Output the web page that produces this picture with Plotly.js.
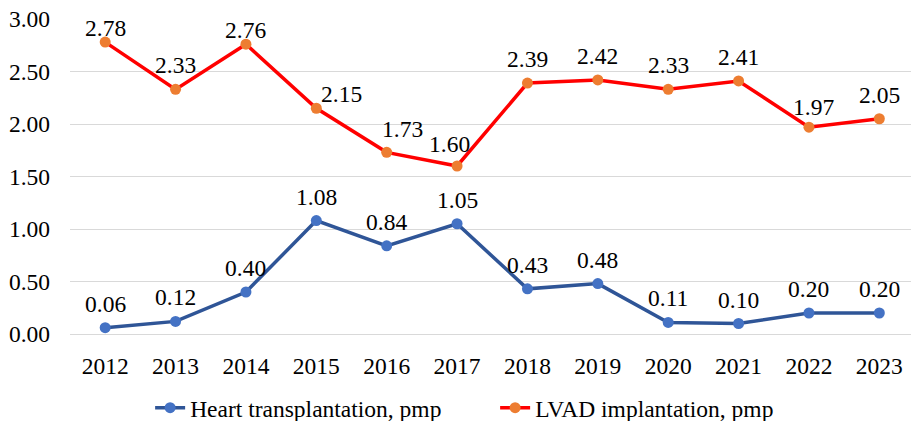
<!DOCTYPE html>
<html>
<head>
<meta charset="utf-8">
<script src="https://cdn.plot.ly/plotly-3.0.1.min.js"></script>
<style>html,body{margin:0;padding:0;background:#fff;}#chart{width:911px;height:421px;}#err{position:absolute;left:0;top:0;color:red;font-size:12px;}</style>
</head>
<body>
<div id="chart"></div>
<div id="err"></div>
<script>
const years = ['2012','2013','2014','2015','2016','2017','2018','2019','2020','2021','2022','2023'];
const heartTx = [0.06,0.12,0.40,1.08,0.84,1.05,0.43,0.48,0.11,0.10,0.20,0.20];
const lvad = [2.78,2.33,2.76,2.15,1.73,1.60,2.39,2.42,2.33,2.41,1.97,2.05];
const heartName = 'Heart transplantation, pmp';
const lvadName = 'LVAD implantation, pmp';

// label nudges (px) — style only
const heartDx = [0,0,0,0,0,0,0,0,0,0,0,0];
const heartDy = [0,0,0,0,0,0,0,0,0,0,0,0];
const lvadDx = [0,0,0,25,16,-8,0,0,0,0,5,0];
const lvadDy = [-10,0,-10,-10,-1,-2,0,0,0,0,-4,0];

const FONT = "'Liberation Serif', 'Times New Roman', serif";
const FS = 23.5;

const traces = [
  {x: years, y: heartTx, name: heartName, type: 'scatter', mode: 'lines+markers',
   line: {color: '#2F5597', width: 3.5}, marker: {color: '#4472C4', size: 11}},
  {x: years, y: lvad, name: lvadName, type: 'scatter', mode: 'lines+markers',
   line: {color: '#FF0000', width: 3.5}, marker: {color: '#ED7D31', size: 11}}
];

const annotations = [];
function addLabels(vals, dx, dy) {
  vals.forEach(function (v, i) {
    annotations.push({x: i, y: v, xref: 'x', yref: 'y', text: v.toFixed(2),
      showarrow: false, yanchor: 'bottom', xanchor: 'center',
      xshift: dx[i], yshift: 9 + dy[i], font: {family: FONT, size: FS, color: '#000000'}});
  });
}
addLabels(heartTx, heartDx, heartDy);
addLabels(lvad, lvadDx, lvadDy);

const layout = {
  width: 911, height: 421,
  margin: {l: 70, r: 0, t: 19, b: 87},
  paper_bgcolor: '#ffffff', plot_bgcolor: '#ffffff',
  font: {family: FONT, size: FS, color: '#000000'},
  showlegend: true,
  legend: {orientation: 'h', xref: 'container', yref: 'container', x: 0.5435, xanchor: 'center',
           y: 0.031, yanchor: 'middle', font: {family: FONT, size: FS, color: '#000000'},
           entrywidth: 300},
  xaxis: {type: 'category', range: [-0.5, 11.45], showgrid: false, zeroline: false, showline: false,
          ticks: '', ticklabelstandoff: 15, tickfont: {family: FONT, size: FS, color: '#000000'}},
  yaxis: {range: [0, 3], dtick: 0.5, tickformat: '.2f', showgrid: true, gridcolor: '#D9D9D9', gridwidth: 1,
          zeroline: true, zerolinecolor: '#D9D9D9', zerolinewidth: 1, showline: false, ticks: '',
          ticklabelstandoff: 19, tickfont: {family: FONT, size: FS, color: '#000000'}},
  annotations: annotations
};

Plotly.newPlot('chart', traces, layout, {displayModeBar: false, staticPlot: true})
  .catch(function (e) { document.getElementById('err').textContent = String(e); });
window.addEventListener('error', function (e) { document.getElementById('err').textContent = e.message; });
</script>
</body>
</html>
